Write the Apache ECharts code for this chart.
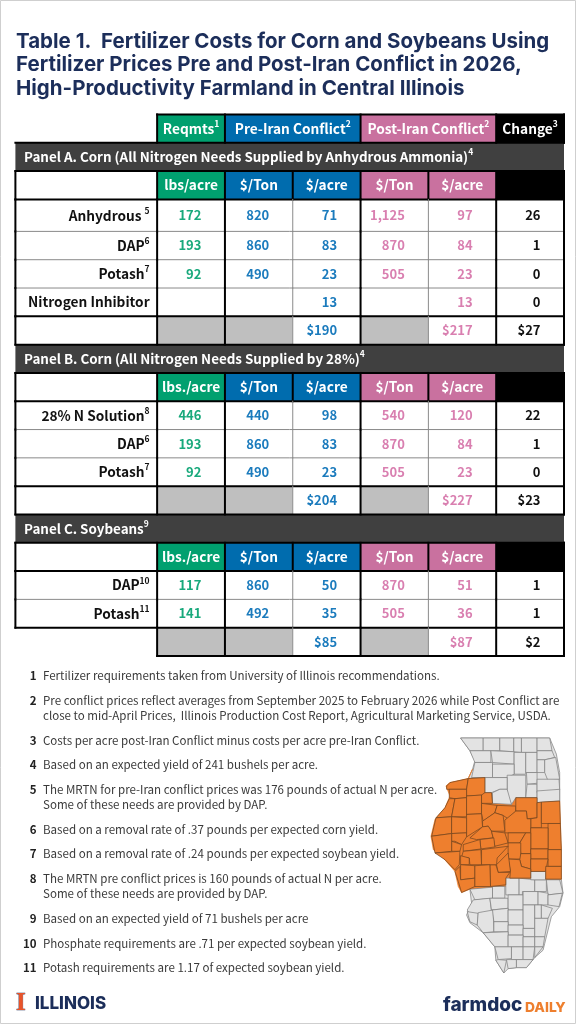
<!DOCTYPE html>
<html>
<head>
<meta charset="utf-8">
<style>html,body{margin:0;background:#fff}#container{width:576px;height:1024px}</style>
</head>
<body>
<div id="container"></div>
<script src="https://cdn.jsdelivr.net/npm/echarts@6/dist/echarts.min.js"></script>
<script>
// ---- table data ----
var titleLines = [
    'Table 1.  Fertilizer Costs for Corn and Soybeans Using',
    'Fertilizer Prices Pre and Post-Iran Conflict in 2026,',
    'High-Productivity Farmland in Central Illinois'
];
var topHeaders = ['Reqmts', 'Pre-Iran Conflict', 'Post-Iran Conflict', 'Change'];
var topHeaderNotes = [1, 2, 2, 3];
var unitHeaders = ['$/Ton', '$/acre', '$/Ton', '$/acre'];

var panelATitle = 'Panel A. Corn (All Nitrogen Needs Supplied by Anhydrous Ammonia)';
var panelAUnit = 'lbs/acre';
var panelAInputs = ['Anhydrous ', 'DAP', 'Potash', 'Nitrogen Inhibitor'];
var panelANotes = [5, 6, 7, null];
var panelAReqmts = [172, 193, 92, null];
var panelAPreTon = [820, 860, 490, null];
var panelAPreAcre = [71, 83, 23, 13];
var panelAPostTon = [1125, 870, 505, null];
var panelAPostAcre = [97, 84, 23, 13];
var panelAChange = [26, 1, 0, 0];
var panelATotals = [190, 217, 27];

var panelBTitle = 'Panel B. Corn (All Nitrogen Needs Supplied by 28%)';
var panelBUnit = 'lbs./acre';
var panelBInputs = ['28% N Solution', 'DAP', 'Potash'];
var panelBNotes = [8, 6, 7];
var panelBReqmts = [446, 193, 92];
var panelBPreTon = [440, 860, 490];
var panelBPreAcre = [98, 83, 23];
var panelBPostTon = [540, 870, 505];
var panelBPostAcre = [120, 84, 23];
var panelBChange = [22, 1, 0];
var panelBTotals = [204, 227, 23];

var panelCTitle = 'Panel C. Soybeans';
var panelCUnit = 'lbs./acre';
var panelCInputs = ['DAP', 'Potash'];
var panelCNotes = [10, 11];
var panelCReqmts = [117, 141];
var panelCPreTon = [860, 492];
var panelCPreAcre = [50, 35];
var panelCPostTon = [870, 505];
var panelCPostAcre = [51, 36];
var panelCChange = [1, 1];
var panelCTotals = [85, 87, 2];

var footnotes = [
    ['Fertilizer requirements taken from University of Illinois recommendations.'],
    ['Pre conflict prices reflect averages from September 2025 to February 2026 while Post Conflict are',
     'close to mid-April Prices,  Illinois Production Cost Report, Agricultural Marketing Service, USDA.'],
    ['Costs per acre post-Iran Conflict minus costs per acre pre-Iran Conflict.'],
    ['Based on an expected yield of 241 bushels per acre.'],
    ['The MRTN for pre-Iran conflict prices was 176 pounds of actual N per acre.',
     'Some of these needs are provided by DAP.'],
    ['Based on a removal rate of .37 pounds per expected corn yield.'],
    ['Based on a removal rate of .24 pounds per expected soybean yield.'],
    ['The MRTN pre conflict prices is 160 pounds of actual N per acre.',
     'Some of these needs are provided by DAP.'],
    ['Based on an expected yield of 71 bushels per acre'],
    ['Phosphate requirements are .71 per expected soybean yield.'],
    ['Potash requirements are 1.17 of expected soybean yield.']
];

// ---- county outlines, traced by hand (x, -y in an arbitrary plane) ----
var centralCounties = [
    [[80,170],[90,160],[145,148],[140,180],[80,180]],
    [[145,148],[195,145],[195,197],[140,200],[140,180]],
    [[88,180],[140,180],[140,205],[105,208],[88,205]],
    [[88,208],[105,208],[95,262],[48,265],[75,235]],
    [[105,208],[140,205],[140,262],[95,262]],
    [[140,200],[185,197],[185,253],[140,255]],
    [[195,190],[215,190],[218,222],[185,222],[185,197]],
    [[185,222],[232,228],[225,250],[190,275],[185,253]],
    [[140,255],[185,253],[188,292],[140,322]],
    [[48,265],[95,262],[95,312],[35,320]],
    [[95,262],[140,265],[140,310],[95,312]],
    [[232,228],[288,230],[288,245],[265,268],[250,258],[225,250]],
    [[288,205],[352,205],[352,265],[322,268],[320,245],[288,245]],
    [[352,220],[365,218],[365,295],[333,295],[333,268],[352,265]],
    [[365,218],[420,215],[422,282],[365,282]],
    [[255,272],[288,245],[320,245],[322,268],[333,268],[333,310],[255,310]],
    [[385,282],[422,282],[425,360],[385,360]],
    [[333,295],[385,295],[385,358],[333,358]],
    [[188,275],[225,250],[250,258],[255,305],[215,305],[205,290],[188,292]],
    [[150,325],[188,292],[205,290],[215,305],[220,325],[170,330]],
    [[215,305],[255,310],[265,340],[225,350],[220,325]],
    [[265,310],[318,310],[300,340],[265,340]],
    [[300,340],[318,310],[333,310],[333,372],[303,372]],
    [[265,340],[303,340],[303,388],[265,388]],
    [[333,358],[385,358],[385,388],[333,388]],
    [[385,360],[425,360],[425,410],[385,410]],
    [[303,372],[333,372],[333,418],[305,410],[300,390]],
    [[333,388],[385,388],[378,425],[333,425]],
    [[378,410],[425,410],[425,448],[378,448]],
    [[265,388],[300,390],[305,410],[333,418],[333,445],[270,445],[272,425]],
    [[230,405],[265,370],[272,425],[235,428]],
    [[210,405],[228,405],[235,428],[270,428],[258,445],[258,465],[212,470]],
    [[185,360],[265,350],[232,385],[230,405],[185,405]],
    [[180,330],[222,325],[225,352],[183,358]],
    [[130,345],[180,330],[183,358],[130,365]],
    [[130,365],[183,360],[185,405],[150,405],[148,385],[125,382]],
    [[122,378],[148,385],[148,405],[122,405]],
    [[95,312],[140,310],[140,322],[125,345],[105,335],[95,335]],
    [[95,335],[125,345],[120,365],[95,365]],
    [[35,320],[95,312],[95,365],[45,370]],
    [[45,370],[120,365],[118,405],[105,420],[75,390]],
    [[122,405],[165,408],[165,445],[122,450]],
    [[105,425],[120,410],[122,450],[165,445],[165,470],[125,488],[115,455]],
    [[165,408],[210,405],[212,470],[165,470]]
];
var otherCounties = [
    [[122,27],[190,27],[190,65],[150,65]],
    [[190,27],[240,27],[240,65],[190,65]],
    [[240,27],[282,27],[282,68],[240,65]],
    [[282,27],[305,27],[305,70],[282,68]],
    [[305,27],[352,27],[352,70],[305,70]],
    [[352,27],[390,27],[397,65],[352,65]],
    [[150,65],[213,65],[213,100],[165,100]],
    [[213,65],[283,68],[283,105],[218,100]],
    [[283,70],[318,70],[318,135],[283,135]],
    [[318,70],[352,70],[352,130],[318,130]],
    [[352,65],[397,65],[405,85],[375,92],[352,92]],
    [[352,92],[375,92],[375,130],[352,130]],
    [[375,92],[408,85],[420,150],[385,155],[375,130]],
    [[165,100],[218,100],[218,145],[155,145]],
    [[218,105],[283,105],[283,135],[262,145],[218,145]],
    [[262,138],[318,138],[318,205],[288,205],[275,225],[262,195]],
    [[195,145],[262,145],[262,180],[240,180],[215,190],[195,190]],
    [[218,190],[240,180],[262,180],[275,225],[218,222]],
    [[320,130],[352,130],[352,162],[322,165]],
    [[322,165],[352,165],[352,205],[318,205]],
    [[352,150],[418,150],[420,182],[352,190]],
    [[352,185],[420,180],[420,215],[352,220]],
    [[150,478],[218,472],[218,505],[165,510]],
    [[218,470],[255,470],[255,505],[218,505]],
    [[258,445],[298,445],[298,495],[258,495]],
    [[298,445],[345,450],[345,485],[308,485],[308,495],[298,495]],
    [[345,450],[380,450],[380,485],[345,485]],
    [[333,425],[378,425],[378,450],[333,450]],
    [[380,450],[420,450],[430,490],[385,495]],
    [[160,510],[210,505],[215,545],[150,555],[142,540]],
    [[210,505],[265,505],[265,535],[215,540]],
    [[265,495],[310,495],[310,540],[265,540]],
    [[310,485],[355,485],[355,525],[310,525]],
    [[355,485],[385,490],[385,525],[355,525]],
    [[385,495],[428,490],[418,530],[385,525]],
    [[142,545],[175,550],[172,585],[150,575]],
    [[175,548],[220,540],[222,605],[190,608],[172,585]],
    [[218,540],[265,535],[265,575],[222,575]],
    [[265,540],[310,540],[310,585],[265,585]],
    [[310,525],[345,525],[345,595],[310,595]],
    [[345,525],[365,525],[365,565],[345,565]],
    [[365,525],[398,535],[385,565],[365,565]],
    [[222,575],[265,575],[265,605],[222,605]],
    [[265,585],[310,585],[310,615],[265,615]],
    [[310,595],[345,595],[345,620],[310,620]],
    [[345,565],[385,565],[375,620],[345,620]],
    [[190,608],[265,605],[265,650],[225,650]],
    [[265,615],[310,615],[310,650],[265,650]],
    [[310,620],[345,620],[345,650],[310,650]],
    [[345,620],[375,620],[370,650],[345,650]],
    [[225,650],[275,650],[275,685],[235,688]],
    [[275,650],[310,650],[310,688],[275,688]],
    [[310,650],[345,650],[340,688],[310,688]],
    [[345,650],[370,650],[345,682]],
    [[235,688],[260,690],[252,728],[228,690]],
    [[260,688],[290,688],[290,712],[265,715]],
    [[290,688],[340,688],[320,712],[290,712]]
];

// ---- styles ----
var FONT = '"Noto Sans CJK SC", "Noto Sans", sans-serif';
var GREEN = '#00a06f', BLUE = '#006cae', PINK = '#c9719f', DARK = '#404040';
var GREEN_TEXT = '#19a97c', BLUE_TEXT = '#1b7bbd', PINK_TEXT = '#d97fb0', SHADE = '#bfbfbf';
var NAVY = '#1c2e5a', ORANGE = '#ee7f2e';

// table layout in axis units: one unit is one plain column / one plain row
var columnSpans = [2.09, 1, 1, 1, 1, 1, 1];
var columnEdges = [0];
columnSpans.forEach(function (s, i) { columnEdges.push(columnEdges[i] + s); });
var lastColumn = columnEdges[7];
var PANEL_TALL_ROW = 1.13;

var cells = [];
var rules = [];
var rowTop = 0;

function toText(v) { return v === null ? '' : v.toLocaleString('en-US'); }
function rich(text, note, kind) {
    return '{' + kind + '|' + text + '}' + (note ? '{s' + kind + '|' + note + '}' : '');
}
function addCell(col, span, row, height, fill, text, color, align) {
    cells.push({x0: columnEdges[col], x1: columnEdges[col + span], y0: row, y1: row + height,
        fill: fill, text: text, color: color, align: align});
}
function addPanel(title, note, unit, names, notes, cols, totals) {
    var y = rowTop;
    addCell(0, 7, y, 1, DARK, rich(title, note, 'p'), '#fff', 'left');
    rules.push([0, y, lastColumn, y, 1]);
    y += 1;
    rules.push([0, y, lastColumn, y, 1]);
    addCell(0, 1, y, 1, '#fff', '', '#000', 'label');
    addCell(1, 1, y, 1, GREEN, rich(unit, 0, 'h'), '#fff', 'center');
    addCell(2, 1, y, 1, BLUE, rich(unitHeaders[0], 0, 'h'), '#fff', 'center');
    addCell(3, 1, y, 1, BLUE, rich(unitHeaders[1], 0, 'h'), '#fff', 'center');
    addCell(4, 1, y, 1, PINK, rich(unitHeaders[2], 0, 'h'), '#fff', 'center');
    addCell(5, 1, y, 1, PINK, rich(unitHeaders[3], 0, 'h'), '#fff', 'center');
    addCell(6, 1, y, 1, '#000', '', '#fff', 'center');
    rules.push([0, y, 0, y + 1, 1]);
    for (var c = 1; c <= 7; c++) rules.push([columnEdges[c], y, columnEdges[c], y + 1, 1]);
    y += 1;
    rules.push([0, y, lastColumn, y, 1]);
    var colors = [GREEN_TEXT, BLUE_TEXT, BLUE_TEXT, PINK_TEXT, PINK_TEXT, '#111'];
    names.forEach(function (name, i) {
        var h = names[i] === 'Anhydrous ' ? PANEL_TALL_ROW : 1;
        addCell(0, 1, y, h, '#fff', rich(name, notes[i], 'l'), '#111', 'label');
        cols.forEach(function (col, k) {
            addCell(k + 1, 1, y, h, '#fff', rich(toText(col[i]), 0, 'n'), colors[k], 'number');
        });
        if (i > 0) rules.push([0, y, lastColumn, y, 0]);
        bodyVerticals(y, y + h);
        y += h;
    });
    rules.push([0, y, lastColumn, y, 1]);
    // totals row; Panel C's label cell sits outside the box
    var open = title === panelCTitle;
    if (!open) addCell(0, 1, y, 1, '#fff', '', '#111', 'label');
    addCell(1, 1, y, 1, SHADE, '', '#111', 'number');
    addCell(2, 1, y, 1, SHADE, '', '#111', 'number');
    addCell(3, 1, y, 1, '#fff', rich('$' + totals[0], 0, 'n'), BLUE_TEXT, 'number');
    addCell(4, 1, y, 1, SHADE, '', '#111', 'number');
    addCell(5, 1, y, 1, '#fff', rich('$' + totals[1], 0, 'n'), PINK_TEXT, 'number');
    addCell(6, 1, y, 1, '#fff', rich('$' + totals[2], 0, 'n'), '#111', 'number');
    if (open) {
        bodyVerticals(y, y + 1, true);
        rules.push([columnEdges[1], y + 1, lastColumn, y + 1, 1]);
    } else {
        bodyVerticals(y, y + 1);
    }
    y += 1;
    rowTop = y;
}
function bodyVerticals(y0, y1, noLeft) {
    if (!noLeft) rules.push([0, y0, 0, y1, 1]);
    [1, 2, 4, 6, 7].forEach(function (c) { rules.push([columnEdges[c], y0, columnEdges[c], y1, 1]); });
    [3, 5].forEach(function (c) { rules.push([columnEdges[c], y0, columnEdges[c], y1, 0]); });
}

// top header row
addCell(1, 1, 0, 1, GREEN, rich(topHeaders[0], topHeaderNotes[0], 'h'), '#fff', 'center');
addCell(2, 2, 0, 1, BLUE, rich(topHeaders[1], topHeaderNotes[1], 'h'), '#fff', 'center');
addCell(4, 2, 0, 1, PINK, rich(topHeaders[2], topHeaderNotes[2], 'h'), '#fff', 'center');
addCell(6, 1, 0, 1, '#000', rich(topHeaders[3], topHeaderNotes[3], 'h'), '#fff', 'center');
rules.push([columnEdges[1], 0, lastColumn, 0, 1]);
[1, 2, 4, 6, 7].forEach(function (c) { rules.push([columnEdges[c], 0, columnEdges[c], 1, 1]); });
rowTop = 1;

addPanel(panelATitle, 4, panelAUnit, panelAInputs, panelANotes,
    [panelAReqmts, panelAPreTon, panelAPreAcre, panelAPostTon, panelAPostAcre, panelAChange], panelATotals);
addPanel(panelBTitle, 4, panelBUnit, panelBInputs, panelBNotes,
    [panelBReqmts, panelBPreTon, panelBPreAcre, panelBPostTon, panelBPostAcre, panelBChange], panelBTotals);
addPanel(panelCTitle, 9, panelCUnit, panelCInputs, panelCNotes,
    [panelCReqmts, panelCPreTon, panelCPreAcre, panelCPostTon, panelCPostAcre, panelCChange], panelCTotals);

function richStyles(color) {
    var sup = {fontFamily: FONT, fontWeight: 700, fontSize: 8.5, verticalAlign: 'top', lineHeight: 18, fill: color};
    function tok(size) { return {fontFamily: FONT, fontWeight: 700, fontSize: size, lineHeight: 18, fill: color}; }
    return {
        p: tok(13.4), sp: sup, h: tok(13.7), sh: sup, l: tok(13.7), sl: sup,
        n: tok(13)
    };
}

function renderCell(params, api) {
    var c = cells[api.value(2)];
    var a = api.coord([c.x0, c.y0]);
    var b = api.coord([c.x1, c.y1]);
    var midY = (a[1] + b[1]) / 2;
    var tx = (a[0] + b[0]) / 2, al = 'center';
    if (c.align === 'left') { tx = a[0] + 8.6; al = 'left'; }
    if (c.align === 'label') { tx = b[0] - 7.5; al = 'right'; }
    if (c.align === 'number') { tx = b[0] - 23.5; al = 'right'; }
    return {
        type: 'group',
        children: [
            {type: 'rect', shape: {x: a[0], y: a[1], width: b[0] - a[0], height: b[1] - a[1]}, style: {fill: c.fill}},
            {type: 'text', z2: 5, style: {x: tx, y: midY, text: c.text, align: al, verticalAlign: 'middle', rich: richStyles(c.color), fill: c.color}}
        ]
    };
}
function renderRule(params, api) {
    var a = api.coord([api.value(0), api.value(1)]);
    var b = api.coord([api.value(2), api.value(3)]);
    var heavy = api.value(4) === 1;
    return {
        type: 'line',
        shape: {x1: a[0], y1: a[1], x2: b[0], y2: b[1]},
        style: {stroke: heavy ? '#000' : '#8a8a8a', lineWidth: heavy ? 2 : 1, lineCap: 'square'}
    };
}

// ---- map ----
function feature(name, ring) {
    var closed = ring.map(function (p) { return [p[0], -p[1]]; });
    closed.push(closed[0]);
    return {type: 'Feature', properties: {name: name}, geometry: {type: 'Polygon', coordinates: [closed]}};
}
var northBase = [[122,27],[390,27],[410,75],[420,130],[420,215],[352,220],[350,205],[288,205],[275,225],[218,222],[215,190],[195,190],[195,145],[145,148],[158,120],[165,95],[150,65]];
var southBase = [[150,478],[258,445],[333,445],[333,425],[378,425],[378,448],[425,448],[430,490],[420,530],[395,560],[385,600],[375,640],[370,660],[345,682],[320,712],[290,712],[265,715],[252,728],[228,690],[225,650],[190,608],[150,578],[140,555],[155,520]];
var centralBase = [[158,120],[145,148],[195,145],[195,190],[215,190],[218,222],[275,225],[288,205],[350,205],[352,220],[420,215],[425,360],[425,448],[378,448],[378,425],[333,425],[333,445],[258,445],[258,470],[150,478],[125,488],[115,470],[105,425],[70,385],[40,360],[33,320],[45,270],[75,235],[90,200],[78,170],[90,160],[145,148]];
var features = [feature('baseN', northBase), feature('baseS', southBase), feature('baseC', centralBase)];
var mapData = [{name: 'baseC', itemStyle: {areaColor: ORANGE, borderColor: ORANGE}}];
otherCounties.forEach(function (ring, i) { features.push(feature('g' + i, ring)); });
centralCounties.forEach(function (ring, i) {
    features.push(feature('c' + i, ring));
    mapData.push({name: 'c' + i, itemStyle: {areaColor: ORANGE, borderColor: '#6e4420'}});
});
echarts.registerMap('illinois', {type: 'FeatureCollection', features: features});

// ---- footnote text ----
var graphics = [
    {type: 'rect', shape: {x: 0.5, y: 0.5, width: 575, height: 1023}, style: {fill: 'none', stroke: '#cfcfcf', lineWidth: 1}},
    {type: 'text', style: {x: 16, y: 1004, text: 'I', font: '900 25px "Liberation Serif"', fill: '#e8542a', stroke: NAVY, lineWidth: 0.6, verticalAlign: 'middle'}},
    {type: 'text', style: {x: 35, y: 1004, text: 'ILLINOIS', font: '800 17px Inter', fill: NAVY, verticalAlign: 'middle'}},
    {type: 'text', style: {x: 443, y: 1005, text: 'farmdoc', font: '800 19px Inter', fill: NAVY, verticalAlign: 'middle'}},
    {type: 'text', style: {x: 525, y: 1008, text: 'DAILY', font: '800 13.8px Inter', fill: ORANGE, verticalAlign: 'middle'}}
];
var noteY = 675.7;
footnotes.forEach(function (lines, i) {
    graphics.push({type: 'text', style: {x: 36.5, y: noteY, text: String(i + 1), align: 'right', verticalAlign: 'middle', font: '700 11.5px ' + FONT, fill: '#222'}});
    lines.forEach(function (line) {
        graphics.push({type: 'text', style: {x: 43, y: noteY, text: line, verticalAlign: 'middle', font: '400 11.55px ' + FONT, fill: '#3a3a3a'}});
        noteY += 15.1;
    });
    noteY += 9.6;
});

var myChart = echarts.init(document.getElementById('container'), null, {renderer: 'canvas'});
var option = {
    animation: false,
    backgroundColor: '#fff',
    title: {
        text: titleLines.join('\n'),
        left: 16, top: 30, padding: 0,
        textStyle: {fontFamily: 'Inter', fontWeight: 700, fontSize: 20.5, lineHeight: 23.5, color: NAVY}
    },
    grid: {left: 15.4, top: 114.5, width: 548.6, height: 541.5},
    xAxis: {type: 'value', min: 0, max: lastColumn, show: false},
    yAxis: {type: 'value', min: 0, max: rowTop, inverse: true, show: false},
    graphic: graphics,
    series: [
        {
            type: 'custom', coordinateSystem: 'cartesian2d', clip: false, silent: true,
            renderItem: renderCell, encode: {x: 0, y: 1},
            data: cells.map(function (c, i) { return [c.x0, c.y0, i]; })
        },
        {
            type: 'custom', coordinateSystem: 'cartesian2d', clip: false, silent: true, z: 3,
            renderItem: renderRule, encode: {x: 0, y: 1},
            data: rules
        },
        {
            type: 'map', map: 'illinois', silent: true, aspectScale: 1,
            left: 431, top: 738, width: 132, height: 235,
            selectedMode: false, label: {show: false},
            itemStyle: {areaColor: '#e3e3e3', borderColor: '#7d7d7d', borderWidth: 0.7},
            data: mapData
        }
    ]
};
myChart.setOption(option, true);
</script>
</body>
</html>
